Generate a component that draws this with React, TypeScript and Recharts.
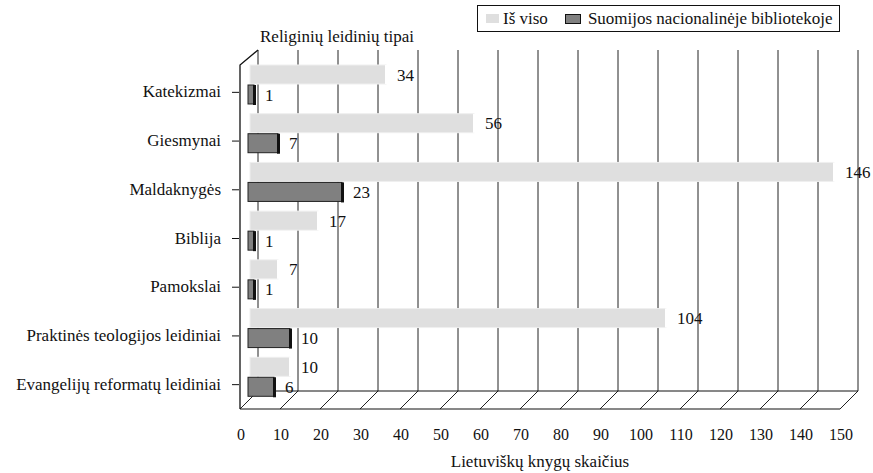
import React from 'react';
import { BarChart, Bar, XAxis, YAxis, CartesianGrid, LabelList, ReferenceArea } from 'recharts';

const categories = [
  'Katekizmai',
  'Giesmynai',
  'Maldaknygės',
  'Biblija',
  'Pamokslai',
  'Praktinės teologijos leidiniai',
  'Evangelijų reformatų leidiniai',
];
const totalCounts = [34, 56, 146, 17, 7, 104, 10];
const libraryCounts = [1, 7, 23, 1, 1, 10, 6];
const xTicks = [0, 10, 20, 30, 40, 50, 60, 70, 80, 90, 100, 110, 120, 130, 140, 150];

const data = categories.map((name, i) => ({
  name,
  total: totalCounts[i],
  library: libraryCounts[i],
}));

const FONT = '"Liberation Serif"';
// perspective offsets: back wall sits right/up, front edge left/down
const BACK_DX = 8;
const BACK_DY = -10;
const FRONT_DX = -10;
const FRONT_DY = 8;

const LightBar = (props: any) => {
  const { x, y, width, height } = props;
  if (!width || width <= 0) return null;
  return (
    <g>
      <rect x={x} y={y} width={width} height={height} fill="#dfdfdf" stroke="#efefef" strokeWidth={1} />
      <line x1={x + width} y1={y} x2={x + width} y2={y + height} stroke="#ffffff" strokeWidth={2} />
    </g>
  );
};

const DarkBar = (props: any) => {
  const { x, y, width, height } = props;
  if (!width || width <= 0) return null;
  return (
    <g>
      <rect x={x - 2} y={y} width={width + 2} height={height} fill="#808080" stroke="#222" strokeWidth={1} />
      <rect x={x + width - 1} y={y} width={3} height={height + 1} fill="#111" />
    </g>
  );
};

const GridLine = (props: any) => {
  const { x1, y1, y2 } = props;
  return (
    <g key={props.key}>
      <line x1={x1 + BACK_DX} y1={y1 + BACK_DY} x2={x1 + BACK_DX} y2={y2 + BACK_DY} stroke="#222" strokeWidth={1} />
      <line x1={x1 + BACK_DX} y1={y2 + BACK_DY} x2={x1 + FRONT_DX} y2={y2 + FRONT_DY} stroke="#222" strokeWidth={1} />
    </g>
  );
};

const Frame = (props: any) => {
  const { x, y, width, height } = props;
  const bottom = y + height;
  const right = x + width;
  return (
    <g fill="none" stroke="#111" strokeWidth={1}>
      <line x1={x + BACK_DX} y1={bottom + BACK_DY} x2={right + BACK_DX} y2={bottom + BACK_DY} />
      <line x1={x + FRONT_DX} y1={bottom + FRONT_DY} x2={right + FRONT_DX} y2={bottom + FRONT_DY} />
      <polyline
        points={`${x + FRONT_DX},${bottom + FRONT_DY} ${x + FRONT_DX},${y + 5} ${x + BACK_DX},${y + BACK_DY}`}
        strokeWidth={1.3}
      />
    </g>
  );
};

const CategoryTick = (props: any) => {
  const { x, y, payload } = props;
  const cy = y + 8;
  return (
    <g>
      <line x1={x - 18} y1={cy} x2={x - 11} y2={cy} stroke="#111" />
      <text x={x - 29} y={cy + 5} textAnchor="end" fill="#111" style={{ fontFamily: FONT, fontSize: 17 }}>
        {payload.value}
      </text>
    </g>
  );
};

const ValueTick = (props: any) => {
  const { x, y, payload } = props;
  return (
    <text x={x + FRONT_DX + 1} y={y + 39} textAnchor="middle" fill="#111" style={{ fontFamily: FONT, fontSize: 16 }}>
      {payload.value}
    </text>
  );
};

const App = () => {
  return (
    <div style={{ position: 'absolute', left: 0, top: 0, width: 873, height: 473, background: '#fff', fontFamily: FONT }}>
      <BarChart
        width={873}
        height={473}
        data={data}
        layout="vertical"
        margin={{ top: 60, right: 23, bottom: 0, left: 0 }}
        barSize={19}
        barGap={1}
        style={{ fontFamily: FONT }}
      >
        <CartesianGrid horizontal={false} vertical={GridLine} />
        <ReferenceArea x1={0} x2={150} shape={Frame} fill="none" />
        <XAxis
          type="number"
          domain={[0, 150]}
          ticks={xTicks}
          axisLine={false}
          tickLine={false}
          tickSize={0}
          tickMargin={0}
          height={72}
          tick={ValueTick}
          interval={0}
        />
        <YAxis
          type="category"
          dataKey="name"
          width={250}
          axisLine={false}
          tickLine={false}
          tickSize={0}
          tickMargin={0}
          tick={CategoryTick}
          interval={0}
        />
        <Bar dataKey="total" name="Iš viso" shape={LightBar} isAnimationActive={false}>
          <LabelList dataKey="total" position="right" offset={11} fill="#111" style={{ fontFamily: FONT, fontSize: 17 }} />
        </Bar>
        <Bar dataKey="library" name="Suomijos nacionalinėje bibliotekoje" shape={DarkBar} isAnimationActive={false}>
          <LabelList dataKey="library" position="right" offset={11} fill="#111" style={{ fontFamily: FONT, fontSize: 17 }} />
        </Bar>
      </BarChart>

      <div
        style={{
          position: 'absolute',
          left: 477,
          top: 5,
          width: 361,
          height: 25,
          border: '1px solid #111',
          display: 'flex',
          alignItems: 'center',
          fontSize: 17,
          color: '#111',
          boxSizing: 'content-box',
          whiteSpace: 'nowrap',
        }}
      >
        <span style={{ display: 'inline-block', width: 13, height: 9, background: '#dfdfdf', marginLeft: 8, marginRight: 4 }} />
        <span>Iš viso</span>
        <span
          style={{
            display: 'inline-block',
            width: 14,
            height: 8,
            background: '#808080',
            border: '1px solid #111',
            marginLeft: 17,
            marginRight: 7,
          }}
        />
        <span>Suomijos nacionalinėje bibliotekoje</span>
      </div>

      <div style={{ position: 'absolute', left: 260, top: 27, fontSize: 17, color: '#111', whiteSpace: 'nowrap' }}>
        Religinių leidinių tipai
      </div>
      <div
        style={{ position: 'absolute', left: 0, width: 1080, top: 452, fontSize: 17, color: '#111', textAlign: 'center' }}
      >
        Lietuviškų knygų skaičius
      </div>
    </div>
  );
};

export default App;
